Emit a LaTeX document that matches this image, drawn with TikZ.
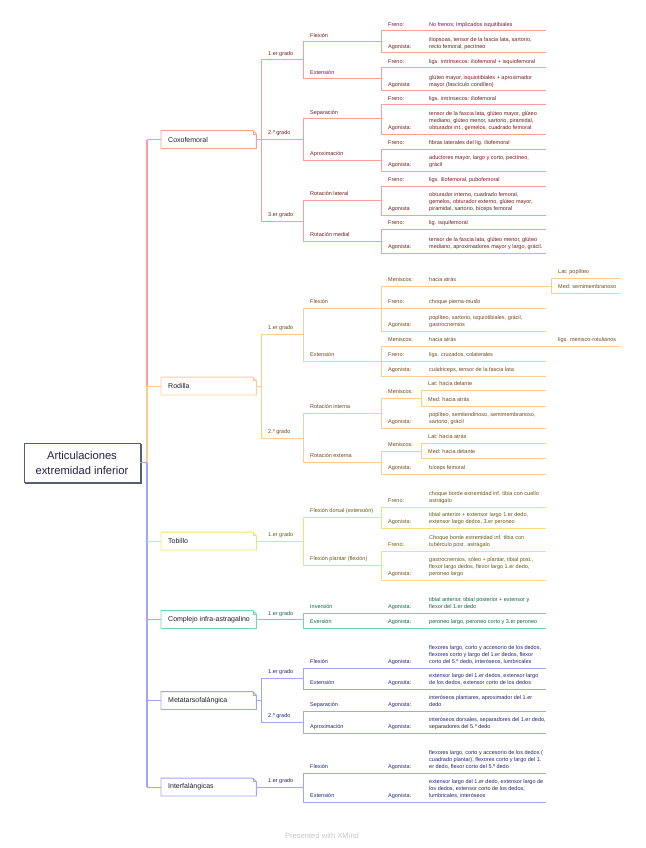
\documentclass[tikz,border=0pt]{standalone}
\usepackage{fontspec}
\setmainfont{Liberation Sans}
\usetikzlibrary{calc,shadows}
\definecolor{lred}{RGB}{246,160,152}
\definecolor{tred}{RGB}{112,28,28}
\definecolor{lora}{RGB}{250,204,150}
\definecolor{tora}{RGB}{112,72,24}
\definecolor{lyel}{RGB}{246,222,128}
\definecolor{tyel}{RGB}{104,88,20}
\definecolor{lgre}{RGB}{112,214,180}
\definecolor{tgre}{RGB}{16,100,70}
\definecolor{lblu}{RGB}{160,166,240}
\definecolor{tblu}{RGB}{32,36,112}
\definecolor{boxtext}{RGB}{30,30,45}
\definecolor{cenb}{RGB}{90,92,125}
\definecolor{cent}{RGB}{35,35,74}
\definecolor{xmg}{RGB}{200,200,205}
\tikzset{
  sm/.style={font=\fontsize{5.5}{7}\selectfont, inner sep=0pt, anchor=base west, align=left},
  ln/.style={line width=1pt},
  trunkln/.style={line width=1.4pt},
  jointbox/.style={anchor=west, minimum width=95pt, minimum height=17.5pt, inner xsep=7pt, inner ysep=0pt,
    font=\fontsize{7}{8.4}\selectfont, text=boxtext},
  cennode/.style={draw=cenb, line width=0.9pt, fill=white, minimum width=116pt, minimum height=39pt,
    align=center, font=\fontsize{11.2}{15}\selectfont, text=cent,
    copy shadow={shadow xshift=1.6pt, shadow yshift=-1.6pt}},
}
% topic with underline: name, x0, x1, underline y, text
\newcommand{\topicL}[5]{%
  \coordinate (#1-s) at (#2,#4);
  \coordinate (#1-e) at (#3,#4);
  \node[sm] (#1) at ({#2+7},{#4-4.5}) {#5};
  \draw[ln] (#1-s) -- (#1-e);
}
% leaf: [end x], name, underline y, label, n lines (unused), content
% (base anchor of a multi-line node is its last line)
\newcommand{\leaf}[6][546]{%
  \coordinate (#2-s) at (381,#3);
  \coordinate (#2-e) at (#1,#3);
  \node[sm] (#2) at (388,{#3-4.5}) {#4};
  \node[sm] (#2t) at (429,{#3-4.5}) {#6};
  \draw[ln] (#2-s) -- (#2-e);
}
% joint box: name, y centre, colour, text
\newcommand{\jbox}[4]{%
  \node[jointbox] (#1) at (161,#2) {\makebox[81pt][l]{#4}};
  \draw[#3, line width=0.9pt] (#1.north west) -- ([xshift=-3.5pt]#1.north east) -- ([yshift=-3.5pt]#1.north east) -- (#1.south east) -- (#1.south west) -- cycle;
  \draw[#3, line width=0.5pt] ([xshift=-3.5pt]#1.north east) -- ([xshift=-3.5pt,yshift=-3.5pt]#1.north east) -- ([yshift=-3.5pt]#1.north east);
}
\begin{document}
\begin{tikzpicture}[x=1pt,y=-1pt]
\useasboundingbox (0,0) rectangle (645,848);

% central node
\node[cennode] (cen) at (82,462.5) {Articulaciones\\extremidad inferior};
\coordinate (tr) at (147,0);

% joint boxes
\jbox{Cb}{139.5}{lred}{Coxofemoral}
\jbox{Rb}{386}{lora}{Rodilla}
\jbox{Tb}{541}{lyel}{Tobillo}
\jbox{CIb}{619.5}{lgre}{Complejo infra-astragalino}
\jbox{Mb}{700.5}{lblu}{Metatarsofalángica}
\jbox{Ib}{787}{lblu}{Interfalángicas}

% trunk
\draw[trunkln, lred] (Cb.west -| tr) -- (Rb.west -| tr);
\draw[trunkln, lora] (Rb.west -| tr) -- (cen.east -| tr);
\draw[trunkln, lblu] (cen.east -| tr) -- (Ib.west -| tr);
\draw[trunkln, lblu] (cen.east) -- (cen.east -| tr);
\draw[ln, lred] (Cb.west -| tr) -- (Cb.west);
\draw[ln, lora] (Rb.west -| tr) -- (Rb.west);
\draw[ln, lyel] (Tb.west -| tr) -- (Tb.west);
\draw[ln, lgre] (CIb.west -| tr) -- (CIb.west);
\draw[ln, lblu] (Mb.west -| tr) -- (Mb.west);
\draw[ln, lblu] (Ib.west -| tr) -- (Ib.west);

% ---------------- Coxofemoral
\begin{scope}[color=lred, text=tred]
\topicL{cg1}{261}{303}{60}{1.er grado}
\topicL{cg2}{261}{303}{139}{2.º grado}
\topicL{cg3}{261}{303}{221}{3.er grado}
\draw[ln] (cg1-s) -- (cg3-s);
\draw[ln] (Cb.east) -- (Cb.east -| cg1-s);
\topicL{cfx}{303}{381}{42}{Flexión}
\topicL{cex}{303}{381}{79}{Extensión}
\draw[ln] (cfx-s) -- (cex-s);
\topicL{csp}{303}{381}{119}{Separación}
\topicL{cap}{303}{381}{160}{Aproximación}
\draw[ln] (csp-s) -- (cap-s);
\topicL{crl}{303}{381}{200}{Rotación lateral}
\topicL{crm}{303}{381}{241}{Rotación medial}
\draw[ln] (crl-s) -- (crm-s);
\leaf{cfxf}{31}{Freno:}{1}{No frenos; Implicados isquitibiales}
\leaf{cfxa}{53}{Agonista:}{2}{iliopsoas, tensor de la fascia lata, sartorio,\\recto femoral, pectíneo}
\draw[ln] (cfxf-s) -- (cfxa-s);
\leaf{cexf}{68}{Freno:}{1}{ligs. intrínsecos: iliofemoral + isquiofemoral}
\leaf{cexa}{91}{Agonista}{2}{glúteo mayor, isquiotibiales + aproximador\\mayor (fascículo condíleo)}
\draw[ln] (cexf-s) -- (cexa-s);
\leaf{cspf}{105}{Freno:}{1}{ligs. intrínsecos: iliofemoral}
\leaf{cspa}{134}{Agonista:}{3}{tensor de la fascia lata, glúteo mayor, glúteo\\mediano, glúteo menor, sartorio, piramidal,\\obturador int., gemelos, cuadrado femoral}
\draw[ln] (cspf-s) -- (cspa-s);
\leaf{capf}{149}{Freno:}{1}{fibras laterales del lig. iliofemoral}
\leaf{capa}{171}{Agonista:}{2}{aductores mayor, largo y corto, pectíneo,\\grácil}
\draw[ln] (capf-s) -- (capa-s);
\leaf{crlf}{186}{Freno:}{1}{ligs. iliofemoral, pubofemoral}
\leaf{crla}{215}{Agonista}{3}{obturador interno, cuadrado femoral,\\gemelos, obturador externo, glúteo mayor,\\piramidal, sartorio, bíceps femoral}
\draw[ln] (crlf-s) -- (crla-s);
\leaf{crmf}{229}{Freno:}{1}{lig. isquifemoral}
\leaf{crma}{253}{Agonista:}{2}{tensor de la fascia lata, glúteo menor, glúteo\\mediano, aproximadores mayor y largo, grácil.}
\draw[ln] (crmf-s) -- (crma-s);
\end{scope}

% ---------------- Rodilla
\begin{scope}[color=lora, text=tora]
\topicL{rg1}{261}{303}{334}{1.er grado}
\topicL{rg2}{261}{303}{438}{2.º grado}
\draw[ln] (rg1-s) -- (rg2-s);
\draw[ln] (Rb.east) -- (Rb.east -| rg1-s);
\topicL{rfx}{303}{381}{308}{Flexión}
\topicL{rex}{303}{381}{361}{Extensión}
\draw[ln] (rfx-s) -- (rex-s);
\topicL{rri}{303}{381}{413}{Rotación interna}
\topicL{rre}{303}{381}{462}{Rotación externa}
\draw[ln] (rri-s) -- (rre-s);
\leaf[551]{rfxm}{286}{Meniscos:}{1}{hacia atrás}
\topicL{rlat}{551}{620}{278}{Lat: poplíteo}
\topicL{rmed}{551}{620}{293}{Med: semimembranoso}
\draw[ln] (rlat-s) -- (rmed-s);
\leaf{rfxf}{308}{Freno:}{1}{choque pierna-muslo}
\leaf{rfxa}{331}{Agonista:}{2}{poplíteo, sartorio, isquiotibiales, grácil,\\gastrocnemios}
\draw[ln] (rfxm-s) -- (rfxa-s);
\leaf[620]{rexm}{346}{Meniscos:}{1}{hacia atrás}
\node[sm] (rexl) at (558,341.5) {ligs. menisco-rotulianos};
\leaf{rexf}{361}{Freno:}{1}{ligs. cruzados, colaterales}
\leaf{rexa}{376}{Agonista:}{1}{cuádriceps, tensor de la fascia lata}
\draw[ln] (rexm-s) -- (rexa-s);
\topicL{rrim}{381}{421}{398}{Meniscos:}
\topicL{rril}{421}{546}{390}{Lat: hacia delante}
\topicL{rrid}{421}{546}{406}{Med: hacia atrás}
\draw[ln] (rril-s) -- (rrid-s);
\leaf{rria}{428}{Agonista:}{2}{poplíteo, semitendinoso, semimembranoso,\\sartorio, grácil}
\draw[ln] (rrim-s) -- (rria-s);
\topicL{rrem}{381}{421}{451}{Meniscos:}
\topicL{rrel}{421}{546}{443}{Lat: hacia atrás}
\topicL{rred}{421}{546}{458}{Med: hacia delante}
\draw[ln] (rrel-s) -- (rred-s);
\leaf{rrea}{474}{Agonista:}{1}{bíceps femoral}
\draw[ln] (rrem-s) -- (rrea-s);
\end{scope}

% ---------------- Tobillo
\begin{scope}[color=lyel, text=tyel]
\topicL{tg1}{261}{303}{541}{1.er grado}
\draw[ln] (Tb.east) -- (tg1-s);
\topicL{tfd}{303}{381}{517}{Flexión dorsal (extensión)}
\topicL{tfp}{303}{381}{565}{Flexión plantar (flexión)}
\draw[ln] (tfd-s) -- (tfp-s);
\leaf{tfdf}{507}{Freno:}{2}{choque borde extremidad inf. tibia con cuello\\astrágalo}
\leaf{tfda}{528}{Agonista:}{2}{tibial anterior + extensor largo 1.er dedo,\\extensor largo dedos, 3.er peroneo}
\draw[ln] (tfdf-s) -- (tfda-s);
\leaf{tfpf}{551}{Freno:}{2}{Choque borde extremidad inf. tibia con\\tubérculo post. astrágalo}
\leaf{tfpa}{580}{Agonista:}{3}{gastrocnemios, sóleo + plantar, tibial post.,\\flexor largo dedos, flexor largo 1.er dedo,\\peroneo largo}
\draw[ln] (tfpf-s) -- (tfpa-s);
\end{scope}

% ---------------- Complejo infra-astragalino
\begin{scope}[color=lgre, text=tgre]
\topicL{ig1}{261}{303}{619.5}{1.er grado}
\draw[ln] (CIb.east) -- (ig1-s);
\topicL{iin}{303}{381}{613}{Inversión}
\topicL{iev}{303}{381}{628}{Eversión}
\draw[ln] (iin-s) -- (iev-s);
\leaf{iina}{613}{Agonista:}{2}{tibial anterior, tibial posterior + extensor y\\flexor del 1.er dedo}
\leaf{ieva}{628}{Agonista:}{1}{peroneo largo, peroneo corto y 3.er peroneo}
\end{scope}

% ---------------- Metatarsofalángica
\begin{scope}[color=lblu, text=tblu]
\topicL{mg1}{261}{303}{678}{1.er grado}
\topicL{mg2}{261}{303}{722}{2.º grado}
\draw[ln] (mg1-s) -- (mg2-s);
\draw[ln] (Mb.east) -- (Mb.east -| mg1-s);
\topicL{mfx}{303}{381}{668}{Flexión}
\topicL{mex}{303}{381}{689}{Extensión}
\draw[ln] (mfx-s) -- (mex-s);
\topicL{msp}{303}{381}{711}{Separación}
\topicL{map}{303}{381}{733}{Aproximación}
\draw[ln] (msp-s) -- (map-s);
\leaf{mfxa}{668}{Agonista:}{3}{flexores largo, corto y accesorio de los dedos,\\flexores corto y largo del 1.er dedos, flexor\\corto del 5.º dedo, interóseos, lumbricales}
\leaf{mexa}{689}{Agonsita:}{2}{extensor largo del 1.er dedos, extensor largo\\de los dedos, extensor corto de los dedos}
\leaf{mspa}{711}{Agonista:}{2}{interóseos plantares, aproximador del 1.er\\dedo}
\leaf{mapa}{733}{Agonista:}{2}{interóseos dorsales, separadores del 1.er dedo,\\separadores del 5.º dedo}

% ---------------- Interfalángicas
\topicL{fg1}{261}{303}{787}{1.er grado}
\draw[ln] (Ib.east) -- (fg1-s);
\topicL{ffx}{303}{381}{773}{Flexión}
\topicL{fex}{303}{381}{802}{Extensión}
\draw[ln] (ffx-s) -- (fex-s);
\leaf{ffxa}{773}{Agonista:}{3}{flexores largo, corto y accesorio de los dedos (\\cuadrado plantar), flexores corto y largo del 1.\\er dedo, flexor corto del 5.º dedo}
\leaf{fexa}{802}{Agonista:}{3}{extensor largo del 1.er dedo, extensor largo de\\los dedos, extensor corto de los dedos,\\lumbricales, interóseos}
\end{scope}

\node[font=\fontsize{7.6}{9}\selectfont, text=xmg] (xm) at (322,836) {Presented with XMind};
\end{tikzpicture}
\end{document}
